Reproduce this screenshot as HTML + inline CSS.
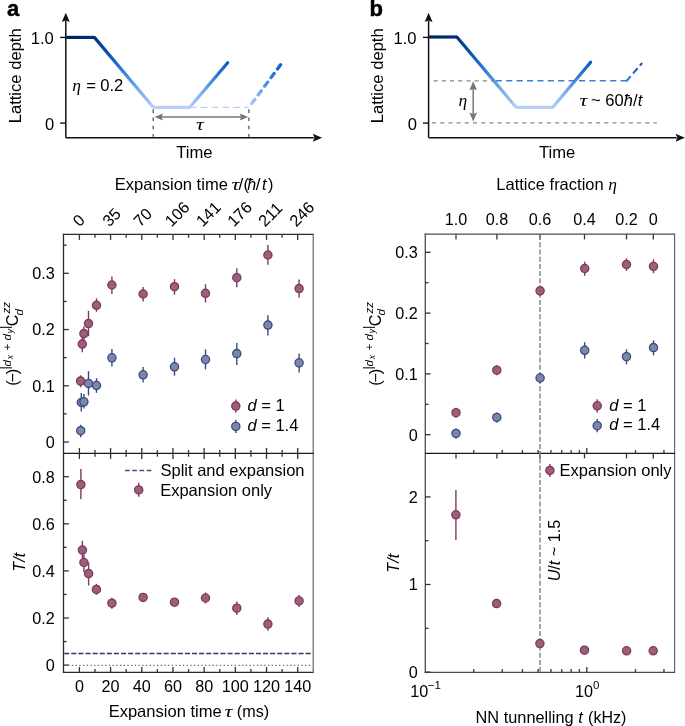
<!DOCTYPE html>
<html><head><meta charset="utf-8"><style>
html,body{margin:0;padding:0;background:#fff;}
svg{display:block;font-family:"Liberation Sans", sans-serif;will-change:transform;}
text{fill:#000;}
</style></head><body>
<svg width="685" height="726" viewBox="0 0 685 726">
<rect width="685" height="726" fill="#fff"/>
<text x="7.00" y="16.20" text-anchor="start" font-size="22" font-weight="bold" stroke="#000" stroke-width="0.45">a</text>
<text x="369.60" y="15.50" text-anchor="start" font-size="22" font-weight="bold" stroke="#000" stroke-width="0.45">b</text>
<line x1="65.80" y1="137.70" x2="65.80" y2="20.50" stroke="#111" stroke-width="1.5" />
<path d="M65.80,12.80 L69.75,22.10 L65.80,20.40 L61.85,22.10 Z" fill="#111"/>
<line x1="65.80" y1="137.70" x2="313.80" y2="137.70" stroke="#111" stroke-width="1.5" />
<path d="M322.10,137.70 L312.80,141.65 L314.50,137.70 L312.80,133.75 Z" fill="#111"/>
<line x1="60.20" y1="37.40" x2="65.80" y2="37.40" stroke="#111" stroke-width="1.4" />
<line x1="60.20" y1="123.10" x2="65.80" y2="123.10" stroke="#111" stroke-width="1.4" />
<text x="53.80" y="44.10" text-anchor="end" font-size="16.6" >1.0</text>
<text x="54.20" y="129.60" text-anchor="end" font-size="16.6" >0</text>
<text transform="translate(20.60,75.8) rotate(-90)" text-anchor="middle" font-size="16.6">Lattice depth</text>
<text x="194.40" y="158.20" text-anchor="middle" font-size="16.6" >Time</text>
<linearGradient id="g1a" gradientUnits="userSpaceOnUse" x1="66.1" y1="37.4" x2="94.4" y2="37.4"><stop offset="0" stop-color="#00205a"/><stop offset="1" stop-color="#00317e"/></linearGradient>
<line x1="66.1" y1="37.4" x2="94.4" y2="37.4" stroke="url(#g1a)" stroke-width="3.2" />
<linearGradient id="g2a" gradientUnits="userSpaceOnUse" x1="94.4" y1="37.4" x2="153.3" y2="107.3"><stop offset="0" stop-color="#003584"/><stop offset="0.2" stop-color="#054fae"/><stop offset="0.45" stop-color="#2a76d6"/><stop offset="0.7" stop-color="#6aa3ec"/><stop offset="1" stop-color="#b3cdf8"/></linearGradient>
<line x1="94.4" y1="37.4" x2="153.3" y2="107.3" stroke="url(#g2a)" stroke-width="3.2" />
<circle cx="94.40" cy="37.4" r="1.5" fill="#00317e"/>
<line x1="152.80" y1="107.30" x2="189.80" y2="107.30" stroke="#b8cff8" stroke-width="3.2" />
<linearGradient id="g3a" gradientUnits="userSpaceOnUse" x1="189.8" y1="107.3" x2="227.7" y2="62.7"><stop offset="0" stop-color="#b3cdf8"/><stop offset="0.35" stop-color="#78abee"/><stop offset="0.7" stop-color="#2f78d8"/><stop offset="1" stop-color="#0a5cc4"/></linearGradient>
<line x1="189.8" y1="107.3" x2="227.7" y2="62.7" stroke="url(#g3a)" stroke-width="3.2" stroke-linecap="round"/>
<line x1="189.80" y1="107.30" x2="248.90" y2="107.30" stroke="#b8cff8" stroke-width="1.3" stroke-dasharray="7 3.9"/>
<linearGradient id="g4a" gradientUnits="userSpaceOnUse" x1="248.89999999999998" y1="107.3" x2="281.7" y2="63.3"><stop offset="0" stop-color="#b3cdf8"/><stop offset="0.35" stop-color="#78abee"/><stop offset="0.7" stop-color="#2f78d8"/><stop offset="1" stop-color="#0a5cc4"/></linearGradient>
<line x1="248.89999999999998" y1="107.3" x2="281.7" y2="63.3" stroke="url(#g4a)" stroke-width="3.3" stroke-linecap="round" stroke-dasharray="5.2 5.6" stroke-dashoffset="-4.6"/>
<line x1="153.20" y1="109.30" x2="153.20" y2="136.70" stroke="#555" stroke-width="1.3" stroke-dasharray="3.6 4.6"/>
<line x1="248.90" y1="109.30" x2="248.90" y2="136.70" stroke="#555" stroke-width="1.3" stroke-dasharray="3.6 4.6"/>
<line x1="157.80" y1="117.10" x2="242.80" y2="117.10" stroke="#777" stroke-width="1.5" />
<path d="M154.60,117.10 L162.90,113.60 L161.60,117.10 L162.90,120.60 Z" fill="#777"/>
<path d="M248.10,117.10 L239.80,120.60 L241.10,117.10 L239.80,113.60 Z" fill="#777"/>
<text transform="translate(200.00,130.4) scale(1.3,0.92)" text-anchor="middle" font-size="17" font-family='"Liberation Serif", serif' font-style="italic">τ</text>
<text x="72.20" y="90.6" font-size="17.5" font-family='"Liberation Serif", serif' font-style="italic">η</text>
<text x="86.20" y="90.9" font-size="16.6">=</text>
<text x="100.20" y="90.9" font-size="16.6">0.2</text>
<line x1="428.60" y1="137.70" x2="428.60" y2="20.50" stroke="#111" stroke-width="1.5" />
<path d="M428.60,12.80 L432.55,22.10 L428.60,20.40 L424.65,22.10 Z" fill="#111"/>
<line x1="428.60" y1="137.70" x2="676.60" y2="137.70" stroke="#111" stroke-width="1.5" />
<path d="M684.90,137.70 L675.60,141.65 L677.30,137.70 L675.60,133.75 Z" fill="#111"/>
<line x1="423.00" y1="37.40" x2="428.60" y2="37.40" stroke="#111" stroke-width="1.4" />
<line x1="423.00" y1="123.10" x2="428.60" y2="123.10" stroke="#111" stroke-width="1.4" />
<text x="416.60" y="44.10" text-anchor="end" font-size="16.6" >1.0</text>
<text x="417.00" y="129.60" text-anchor="end" font-size="16.6" >0</text>
<text transform="translate(383.40,75.8) rotate(-90)" text-anchor="middle" font-size="16.6">Lattice depth</text>
<text x="557.20" y="158.20" text-anchor="middle" font-size="16.6" >Time</text>
<linearGradient id="g1b" gradientUnits="userSpaceOnUse" x1="428.90000000000003" y1="37.0" x2="456.90000000000003" y2="37.0"><stop offset="0" stop-color="#00205a"/><stop offset="1" stop-color="#00317e"/></linearGradient>
<line x1="428.90000000000003" y1="37.0" x2="456.90000000000003" y2="37.0" stroke="url(#g1b)" stroke-width="3.2" />
<linearGradient id="g2b" gradientUnits="userSpaceOnUse" x1="456.90000000000003" y1="37.0" x2="516.1" y2="107.3"><stop offset="0" stop-color="#003584"/><stop offset="0.2" stop-color="#054fae"/><stop offset="0.45" stop-color="#2a76d6"/><stop offset="0.7" stop-color="#6aa3ec"/><stop offset="1" stop-color="#b3cdf8"/></linearGradient>
<line x1="456.90000000000003" y1="37.0" x2="516.1" y2="107.3" stroke="url(#g2b)" stroke-width="3.2" />
<circle cx="456.90" cy="37.0" r="1.5" fill="#00317e"/>
<line x1="515.60" y1="107.30" x2="552.60" y2="107.30" stroke="#b8cff8" stroke-width="3.2" />
<linearGradient id="g3b" gradientUnits="userSpaceOnUse" x1="552.8000000000001" y1="107.3" x2="590.6" y2="62.3"><stop offset="0" stop-color="#b3cdf8"/><stop offset="0.35" stop-color="#78abee"/><stop offset="0.7" stop-color="#2f78d8"/><stop offset="1" stop-color="#0a5cc4"/></linearGradient>
<line x1="552.8000000000001" y1="107.3" x2="590.6" y2="62.3" stroke="url(#g3b)" stroke-width="3.2" stroke-linecap="round"/>
<line x1="433.60" y1="80.80" x2="494.90" y2="80.80" stroke="#8a8a8a" stroke-width="1.3" stroke-dasharray="4.1 4.1"/>
<line x1="432.00" y1="122.90" x2="656.80" y2="122.90" stroke="#8a8a8a" stroke-width="1.3" stroke-dasharray="4.1 4.1"/>
<line x1="495.80" y1="80.80" x2="626.70" y2="80.80" stroke="#3a80d8" stroke-width="1.6" stroke-dasharray="6.1 4.3"/>
<linearGradient id="g5b" gradientUnits="userSpaceOnUse" x1="626.7" y1="80.8" x2="641.6" y2="63.6"><stop offset="0" stop-color="#3a80d8"/><stop offset="1" stop-color="#0a5cc4"/></linearGradient>
<line x1="626.7" y1="80.8" x2="641.6" y2="63.6" stroke="url(#g5b)" stroke-width="2.2" stroke-linecap="round" stroke-dasharray="5.2 5.3"/>
<line x1="473.20" y1="88.00" x2="473.20" y2="115.00" stroke="#777" stroke-width="1.5" />
<path d="M473.20,81.30 L477.00,90.30 L473.20,89.00 L469.40,90.30 Z" fill="#777"/>
<path d="M473.20,121.60 L469.40,112.60 L473.20,113.90 L477.00,112.60 Z" fill="#777"/>
<text x="458.60" y="106.0" font-size="17.5" font-family='"Liberation Serif", serif' font-style="italic">η</text>
<text transform="translate(579.60,105.8) scale(1.3,0.92)" font-size="17" font-family='"Liberation Serif", serif' font-style="italic">τ</text>
<text x="591.00" y="105.8" font-size="16.6">~ 60<tspan font-style="italic">ħ</tspan>/<tspan font-style="italic">t</tspan></text>
<line x1="63.50" y1="233.80" x2="63.50" y2="673.00" stroke="#2b2b2b" stroke-width="1.3" />
<line x1="62.90" y1="234.40" x2="313.70" y2="234.40" stroke="#2b2b2b" stroke-width="1.3" />
<line x1="62.90" y1="672.40" x2="313.70" y2="672.40" stroke="#2b2b2b" stroke-width="1.3" />
<line x1="313.20" y1="234.40" x2="313.20" y2="672.40" stroke="#5a5a5a" stroke-width="1.1" />
<line x1="63.50" y1="453.40" x2="313.70" y2="453.40" stroke="#1a1a1a" stroke-width="1.3" />
<line x1="79.40" y1="234.40" x2="79.40" y2="239.90" stroke="#333" stroke-width="1.3" />
<line x1="79.40" y1="447.90" x2="79.40" y2="458.90" stroke="#333" stroke-width="1.3" />
<line x1="79.40" y1="666.90" x2="79.40" y2="672.40" stroke="#333" stroke-width="1.3" />
<line x1="94.99" y1="234.40" x2="94.99" y2="237.70" stroke="#333" stroke-width="1.3" />
<line x1="94.99" y1="450.10" x2="94.99" y2="456.70" stroke="#333" stroke-width="1.3" />
<line x1="94.99" y1="669.10" x2="94.99" y2="672.40" stroke="#333" stroke-width="1.3" />
<line x1="110.59" y1="234.40" x2="110.59" y2="239.90" stroke="#333" stroke-width="1.3" />
<line x1="110.59" y1="447.90" x2="110.59" y2="458.90" stroke="#333" stroke-width="1.3" />
<line x1="110.59" y1="666.90" x2="110.59" y2="672.40" stroke="#333" stroke-width="1.3" />
<line x1="126.18" y1="234.40" x2="126.18" y2="237.70" stroke="#333" stroke-width="1.3" />
<line x1="126.18" y1="450.10" x2="126.18" y2="456.70" stroke="#333" stroke-width="1.3" />
<line x1="126.18" y1="669.10" x2="126.18" y2="672.40" stroke="#333" stroke-width="1.3" />
<line x1="141.77" y1="234.40" x2="141.77" y2="239.90" stroke="#333" stroke-width="1.3" />
<line x1="141.77" y1="447.90" x2="141.77" y2="458.90" stroke="#333" stroke-width="1.3" />
<line x1="141.77" y1="666.90" x2="141.77" y2="672.40" stroke="#333" stroke-width="1.3" />
<line x1="157.37" y1="234.40" x2="157.37" y2="237.70" stroke="#333" stroke-width="1.3" />
<line x1="157.37" y1="450.10" x2="157.37" y2="456.70" stroke="#333" stroke-width="1.3" />
<line x1="157.37" y1="669.10" x2="157.37" y2="672.40" stroke="#333" stroke-width="1.3" />
<line x1="172.96" y1="234.40" x2="172.96" y2="239.90" stroke="#333" stroke-width="1.3" />
<line x1="172.96" y1="447.90" x2="172.96" y2="458.90" stroke="#333" stroke-width="1.3" />
<line x1="172.96" y1="666.90" x2="172.96" y2="672.40" stroke="#333" stroke-width="1.3" />
<line x1="188.55" y1="234.40" x2="188.55" y2="237.70" stroke="#333" stroke-width="1.3" />
<line x1="188.55" y1="450.10" x2="188.55" y2="456.70" stroke="#333" stroke-width="1.3" />
<line x1="188.55" y1="669.10" x2="188.55" y2="672.40" stroke="#333" stroke-width="1.3" />
<line x1="204.14" y1="234.40" x2="204.14" y2="239.90" stroke="#333" stroke-width="1.3" />
<line x1="204.14" y1="447.90" x2="204.14" y2="458.90" stroke="#333" stroke-width="1.3" />
<line x1="204.14" y1="666.90" x2="204.14" y2="672.40" stroke="#333" stroke-width="1.3" />
<line x1="219.74" y1="234.40" x2="219.74" y2="237.70" stroke="#333" stroke-width="1.3" />
<line x1="219.74" y1="450.10" x2="219.74" y2="456.70" stroke="#333" stroke-width="1.3" />
<line x1="219.74" y1="669.10" x2="219.74" y2="672.40" stroke="#333" stroke-width="1.3" />
<line x1="235.33" y1="234.40" x2="235.33" y2="239.90" stroke="#333" stroke-width="1.3" />
<line x1="235.33" y1="447.90" x2="235.33" y2="458.90" stroke="#333" stroke-width="1.3" />
<line x1="235.33" y1="666.90" x2="235.33" y2="672.40" stroke="#333" stroke-width="1.3" />
<line x1="250.92" y1="234.40" x2="250.92" y2="237.70" stroke="#333" stroke-width="1.3" />
<line x1="250.92" y1="450.10" x2="250.92" y2="456.70" stroke="#333" stroke-width="1.3" />
<line x1="250.92" y1="669.10" x2="250.92" y2="672.40" stroke="#333" stroke-width="1.3" />
<line x1="266.52" y1="234.40" x2="266.52" y2="239.90" stroke="#333" stroke-width="1.3" />
<line x1="266.52" y1="447.90" x2="266.52" y2="458.90" stroke="#333" stroke-width="1.3" />
<line x1="266.52" y1="666.90" x2="266.52" y2="672.40" stroke="#333" stroke-width="1.3" />
<line x1="282.11" y1="234.40" x2="282.11" y2="237.70" stroke="#333" stroke-width="1.3" />
<line x1="282.11" y1="450.10" x2="282.11" y2="456.70" stroke="#333" stroke-width="1.3" />
<line x1="282.11" y1="669.10" x2="282.11" y2="672.40" stroke="#333" stroke-width="1.3" />
<line x1="297.70" y1="234.40" x2="297.70" y2="239.90" stroke="#333" stroke-width="1.3" />
<line x1="297.70" y1="447.90" x2="297.70" y2="458.90" stroke="#333" stroke-width="1.3" />
<line x1="297.70" y1="666.90" x2="297.70" y2="672.40" stroke="#333" stroke-width="1.3" />
<line x1="63.50" y1="442.00" x2="68.80" y2="442.00" stroke="#333" stroke-width="1.3" />
<text x="54.80" y="447.90" text-anchor="end" font-size="16.2" >0</text>
<line x1="63.50" y1="413.88" x2="66.70" y2="413.88" stroke="#333" stroke-width="1.3" />
<line x1="63.50" y1="385.77" x2="68.80" y2="385.77" stroke="#333" stroke-width="1.3" />
<text x="54.80" y="391.67" text-anchor="end" font-size="16.2" >0.1</text>
<line x1="63.50" y1="357.65" x2="66.70" y2="357.65" stroke="#333" stroke-width="1.3" />
<line x1="63.50" y1="329.54" x2="68.80" y2="329.54" stroke="#333" stroke-width="1.3" />
<text x="54.80" y="335.44" text-anchor="end" font-size="16.2" >0.2</text>
<line x1="63.50" y1="301.43" x2="66.70" y2="301.43" stroke="#333" stroke-width="1.3" />
<line x1="63.50" y1="273.31" x2="68.80" y2="273.31" stroke="#333" stroke-width="1.3" />
<text x="54.80" y="279.21" text-anchor="end" font-size="16.2" >0.3</text>
<line x1="63.50" y1="245.19" x2="66.70" y2="245.19" stroke="#333" stroke-width="1.3" />
<line x1="63.50" y1="665.10" x2="68.80" y2="665.10" stroke="#333" stroke-width="1.3" />
<text x="54.80" y="671.00" text-anchor="end" font-size="16.2" >0</text>
<line x1="63.50" y1="641.55" x2="66.70" y2="641.55" stroke="#333" stroke-width="1.3" />
<line x1="63.50" y1="618.00" x2="68.80" y2="618.00" stroke="#333" stroke-width="1.3" />
<text x="54.80" y="623.90" text-anchor="end" font-size="16.2" >0.2</text>
<line x1="63.50" y1="594.45" x2="66.70" y2="594.45" stroke="#333" stroke-width="1.3" />
<line x1="63.50" y1="570.90" x2="68.80" y2="570.90" stroke="#333" stroke-width="1.3" />
<text x="54.80" y="576.80" text-anchor="end" font-size="16.2" >0.4</text>
<line x1="63.50" y1="547.35" x2="66.70" y2="547.35" stroke="#333" stroke-width="1.3" />
<line x1="63.50" y1="523.80" x2="68.80" y2="523.80" stroke="#333" stroke-width="1.3" />
<text x="54.80" y="529.70" text-anchor="end" font-size="16.2" >0.6</text>
<line x1="63.50" y1="500.25" x2="66.70" y2="500.25" stroke="#333" stroke-width="1.3" />
<line x1="63.50" y1="476.70" x2="68.80" y2="476.70" stroke="#333" stroke-width="1.3" />
<text x="54.80" y="482.60" text-anchor="end" font-size="16.2" >0.8</text>
<text x="79.40" y="691.80" text-anchor="middle" font-size="16.2" >0</text>
<text x="110.59" y="691.80" text-anchor="middle" font-size="16.2" >20</text>
<text x="141.77" y="691.80" text-anchor="middle" font-size="16.2" >40</text>
<text x="172.96" y="691.80" text-anchor="middle" font-size="16.2" >60</text>
<text x="204.14" y="691.80" text-anchor="middle" font-size="16.2" >80</text>
<text x="235.33" y="691.80" text-anchor="middle" font-size="16.2" >100</text>
<text x="266.52" y="691.80" text-anchor="middle" font-size="16.2" >120</text>
<text x="297.70" y="691.80" text-anchor="middle" font-size="16.2" >140</text>
<text transform="translate(79.40,227.5) rotate(-45)" font-size="16.2">0</text>
<text transform="translate(109.19,227.5) rotate(-45)" font-size="16.2">35</text>
<text transform="translate(140.37,227.5) rotate(-45)" font-size="16.2">70</text>
<text transform="translate(171.56,227.5) rotate(-45)" font-size="16.2">106</text>
<text transform="translate(202.74,227.5) rotate(-45)" font-size="16.2">141</text>
<text transform="translate(233.93,227.5) rotate(-45)" font-size="16.2">176</text>
<text transform="translate(265.12,227.5) rotate(-45)" font-size="16.2">211</text>
<text transform="translate(296.30,227.5) rotate(-45)" font-size="16.2">246</text>
<text x="108.64" y="717.10" font-size="16.55">Expansion time</text>
<text transform="translate(224.51,717.10) scale(1.3,0.92)" font-size="17" font-family='"Liberation Serif", serif' font-style="italic">τ</text>
<text x="236.80" y="717.10" font-size="16.2">(ms)</text>
<text x="114.84" y="190.40" font-size="16.55">Expansion time</text>
<text transform="translate(231.61,190.40) scale(1.3,0.92)" font-size="17" font-family='"Liberation Serif", serif' font-style="italic">τ</text>
<text x="238.60" y="190.40" font-size="17">/</text>
<text x="243.60" y="190.40" font-size="16.2">(</text>
<text x="247.33" y="190.40" font-size="16.2" font-style="italic">ħ</text>
<text x="255.70" y="190.40" font-size="17">/</text>
<text x="261.96" y="190.40" font-size="16.2" font-style="italic">t</text>
<text x="268.11" y="190.40" font-size="16.2">)</text>
<g transform="translate(18.40,343.20) rotate(-90)" font-size="16.2"><text x="-42.50" y="0.00" font-size="16.2">(</text><text x="-39.40" y="0.00" font-size="16.2">−</text><text x="-31.10" y="0.00" font-size="16.2">)</text><text x="-26.30" y="-9.00" font-size="12.8">|</text><text x="-23.40" y="-7.60" font-size="11.5" font-style="italic">d</text><text x="-16.00" y="-5.60" font-size="8.5" font-style="italic">x</text><text x="-7.40" y="-7.60" font-size="11.5">+</text><text x="2.60" y="-7.60" font-size="11.5" font-style="italic">d</text><text x="10.00" y="-5.60" font-size="8.5" font-style="italic">y</text><text x="14.30" y="-9.00" font-size="12.8">|</text><text x="16.90" y="0.00" font-size="16.2">C</text><text x="27.60" y="4.40" font-size="11.5" font-style="italic">d</text><text x="29.80" y="-8.00" font-size="11.5" font-style="italic">zz</text></g>
<text transform="translate(25.0,562.2) rotate(-90)" text-anchor="middle" font-size="16.2" font-style="italic">T/t</text>
<line x1="80.70" y1="424.70" x2="80.70" y2="437.20" stroke="#3a4a80" stroke-width="1.4" />
<circle cx="80.70" cy="430.70" r="4.1" fill="#7b87aa" stroke="#3a4a80" stroke-width="1.3"/>
<line x1="81.30" y1="393.00" x2="81.30" y2="411.50" stroke="#3a4a80" stroke-width="1.4" />
<circle cx="81.30" cy="402.50" r="4.1" fill="#7b87aa" stroke="#3a4a80" stroke-width="1.3"/>
<line x1="83.90" y1="393.90" x2="83.90" y2="408.50" stroke="#3a4a80" stroke-width="1.4" />
<circle cx="83.90" cy="401.80" r="4.1" fill="#7b87aa" stroke="#3a4a80" stroke-width="1.3"/>
<line x1="88.50" y1="371.20" x2="88.50" y2="395.50" stroke="#3a4a80" stroke-width="1.4" />
<circle cx="88.50" cy="383.40" r="4.1" fill="#7b87aa" stroke="#3a4a80" stroke-width="1.3"/>
<line x1="96.50" y1="378.20" x2="96.50" y2="392.80" stroke="#3a4a80" stroke-width="1.4" />
<circle cx="96.50" cy="385.50" r="4.1" fill="#7b87aa" stroke="#3a4a80" stroke-width="1.3"/>
<line x1="111.90" y1="349.00" x2="111.90" y2="366.60" stroke="#3a4a80" stroke-width="1.4" />
<circle cx="111.90" cy="357.80" r="4.1" fill="#7b87aa" stroke="#3a4a80" stroke-width="1.3"/>
<line x1="143.10" y1="366.90" x2="143.10" y2="382.60" stroke="#3a4a80" stroke-width="1.4" />
<circle cx="143.10" cy="374.80" r="4.1" fill="#7b87aa" stroke="#3a4a80" stroke-width="1.3"/>
<line x1="174.50" y1="357.70" x2="174.50" y2="375.70" stroke="#3a4a80" stroke-width="1.4" />
<circle cx="174.50" cy="366.80" r="4.1" fill="#7b87aa" stroke="#3a4a80" stroke-width="1.3"/>
<line x1="205.50" y1="349.40" x2="205.50" y2="369.40" stroke="#3a4a80" stroke-width="1.4" />
<circle cx="205.50" cy="359.50" r="4.1" fill="#7b87aa" stroke="#3a4a80" stroke-width="1.3"/>
<line x1="236.80" y1="343.10" x2="236.80" y2="365.00" stroke="#3a4a80" stroke-width="1.4" />
<circle cx="236.80" cy="353.60" r="4.1" fill="#7b87aa" stroke="#3a4a80" stroke-width="1.3"/>
<line x1="267.90" y1="315.20" x2="267.90" y2="335.60" stroke="#3a4a80" stroke-width="1.4" />
<circle cx="267.90" cy="325.10" r="4.1" fill="#7b87aa" stroke="#3a4a80" stroke-width="1.3"/>
<line x1="299.10" y1="353.40" x2="299.10" y2="372.60" stroke="#3a4a80" stroke-width="1.4" />
<circle cx="299.10" cy="362.80" r="4.1" fill="#7b87aa" stroke="#3a4a80" stroke-width="1.3"/>
<line x1="80.60" y1="375.30" x2="80.60" y2="387.30" stroke="#7d3a5c" stroke-width="1.4" />
<circle cx="80.60" cy="381.10" r="4.1" fill="#9c5e7a" stroke="#7d3a5c" stroke-width="1.3"/>
<line x1="82.30" y1="337.00" x2="82.30" y2="352.30" stroke="#7d3a5c" stroke-width="1.4" />
<circle cx="82.30" cy="344.10" r="4.1" fill="#9c5e7a" stroke="#7d3a5c" stroke-width="1.3"/>
<line x1="83.90" y1="326.60" x2="83.90" y2="340.00" stroke="#7d3a5c" stroke-width="1.4" />
<circle cx="83.90" cy="333.60" r="4.1" fill="#9c5e7a" stroke="#7d3a5c" stroke-width="1.3"/>
<line x1="88.50" y1="310.70" x2="88.50" y2="336.20" stroke="#7d3a5c" stroke-width="1.4" />
<circle cx="88.50" cy="323.60" r="4.1" fill="#9c5e7a" stroke="#7d3a5c" stroke-width="1.3"/>
<line x1="96.50" y1="298.40" x2="96.50" y2="311.80" stroke="#7d3a5c" stroke-width="1.4" />
<circle cx="96.50" cy="305.30" r="4.1" fill="#9c5e7a" stroke="#7d3a5c" stroke-width="1.3"/>
<line x1="111.90" y1="276.40" x2="111.90" y2="294.00" stroke="#7d3a5c" stroke-width="1.4" />
<circle cx="111.90" cy="285.00" r="4.1" fill="#9c5e7a" stroke="#7d3a5c" stroke-width="1.3"/>
<line x1="143.10" y1="287.00" x2="143.10" y2="301.60" stroke="#7d3a5c" stroke-width="1.4" />
<circle cx="143.10" cy="294.00" r="4.1" fill="#9c5e7a" stroke="#7d3a5c" stroke-width="1.3"/>
<line x1="174.50" y1="279.10" x2="174.50" y2="294.70" stroke="#7d3a5c" stroke-width="1.4" />
<circle cx="174.50" cy="286.70" r="4.1" fill="#9c5e7a" stroke="#7d3a5c" stroke-width="1.3"/>
<line x1="205.50" y1="284.20" x2="205.50" y2="302.50" stroke="#7d3a5c" stroke-width="1.4" />
<circle cx="205.50" cy="293.30" r="4.1" fill="#9c5e7a" stroke="#7d3a5c" stroke-width="1.3"/>
<line x1="236.80" y1="268.20" x2="236.80" y2="287.20" stroke="#7d3a5c" stroke-width="1.4" />
<circle cx="236.80" cy="277.70" r="4.1" fill="#9c5e7a" stroke="#7d3a5c" stroke-width="1.3"/>
<line x1="267.90" y1="245.10" x2="267.90" y2="264.80" stroke="#7d3a5c" stroke-width="1.4" />
<circle cx="267.90" cy="255.00" r="4.1" fill="#9c5e7a" stroke="#7d3a5c" stroke-width="1.3"/>
<line x1="299.10" y1="279.40" x2="299.10" y2="297.70" stroke="#7d3a5c" stroke-width="1.4" />
<circle cx="299.10" cy="288.60" r="4.1" fill="#9c5e7a" stroke="#7d3a5c" stroke-width="1.3"/>
<line x1="235.80" y1="399.50" x2="235.80" y2="412.70" stroke="#7d3a5c" stroke-width="1.4" />
<circle cx="235.80" cy="406.10" r="4.1" fill="#9c5e7a" stroke="#7d3a5c" stroke-width="1.3"/>
<line x1="235.80" y1="419.80" x2="235.80" y2="433.00" stroke="#3a4a80" stroke-width="1.4" />
<circle cx="235.80" cy="426.40" r="4.1" fill="#7b87aa" stroke="#3a4a80" stroke-width="1.3"/>
<text x="247.40" y="410.90" font-size="16.5"><tspan font-style="italic">d</tspan> = 1</text>
<text x="247.40" y="430.60" font-size="16.5"><tspan font-style="italic">d</tspan> = 1.4</text>
<line x1="64.20" y1="653.60" x2="312.50" y2="653.60" stroke="#2d3470" stroke-width="1.5" stroke-dasharray="5.1 2.0"/>
<line x1="64.50" y1="665.40" x2="312.20" y2="665.40" stroke="#6a6a6a" stroke-width="1.3" stroke-dasharray="1.3 2.4"/>
<line x1="80.90" y1="469.00" x2="80.90" y2="499.30" stroke="#7d3a5c" stroke-width="1.4" />
<circle cx="80.90" cy="484.60" r="4.1" fill="#9c5e7a" stroke="#7d3a5c" stroke-width="1.3"/>
<line x1="82.40" y1="540.70" x2="82.40" y2="558.00" stroke="#7d3a5c" stroke-width="1.4" />
<circle cx="82.40" cy="550.10" r="4.1" fill="#9c5e7a" stroke="#7d3a5c" stroke-width="1.3"/>
<line x1="83.90" y1="554.50" x2="83.90" y2="572.00" stroke="#7d3a5c" stroke-width="1.4" />
<circle cx="83.90" cy="562.50" r="4.1" fill="#9c5e7a" stroke="#7d3a5c" stroke-width="1.3"/>
<line x1="88.60" y1="562.50" x2="88.60" y2="585.50" stroke="#7d3a5c" stroke-width="1.4" />
<circle cx="88.60" cy="573.60" r="4.1" fill="#9c5e7a" stroke="#7d3a5c" stroke-width="1.3"/>
<line x1="96.40" y1="583.80" x2="96.40" y2="594.70" stroke="#7d3a5c" stroke-width="1.4" />
<circle cx="96.40" cy="589.40" r="4.1" fill="#9c5e7a" stroke="#7d3a5c" stroke-width="1.3"/>
<line x1="111.90" y1="597.80" x2="111.90" y2="608.70" stroke="#7d3a5c" stroke-width="1.4" />
<circle cx="111.90" cy="603.20" r="4.1" fill="#9c5e7a" stroke="#7d3a5c" stroke-width="1.3"/>
<circle cx="143.10" cy="597.40" r="4.1" fill="#9c5e7a" stroke="#7d3a5c" stroke-width="1.3"/>
<circle cx="174.50" cy="602.20" r="4.1" fill="#9c5e7a" stroke="#7d3a5c" stroke-width="1.3"/>
<line x1="205.50" y1="592.40" x2="205.50" y2="603.60" stroke="#7d3a5c" stroke-width="1.4" />
<circle cx="205.50" cy="598.00" r="4.1" fill="#9c5e7a" stroke="#7d3a5c" stroke-width="1.3"/>
<line x1="236.80" y1="601.60" x2="236.80" y2="615.00" stroke="#7d3a5c" stroke-width="1.4" />
<circle cx="236.80" cy="608.20" r="4.1" fill="#9c5e7a" stroke="#7d3a5c" stroke-width="1.3"/>
<line x1="267.90" y1="617.20" x2="267.90" y2="630.80" stroke="#7d3a5c" stroke-width="1.4" />
<circle cx="267.90" cy="624.10" r="4.1" fill="#9c5e7a" stroke="#7d3a5c" stroke-width="1.3"/>
<line x1="299.10" y1="595.00" x2="299.10" y2="607.00" stroke="#7d3a5c" stroke-width="1.4" />
<circle cx="299.10" cy="600.90" r="4.1" fill="#9c5e7a" stroke="#7d3a5c" stroke-width="1.3"/>
<line x1="125.10" y1="470.50" x2="151.40" y2="470.50" stroke="#454a88" stroke-width="1.4" stroke-dasharray="4.6 2.6"/>
<text x="160.5" y="476.0" font-size="16.5">Split and expansion</text>
<line x1="138.70" y1="482.80" x2="138.70" y2="496.80" stroke="#7d3a5c" stroke-width="1.4" />
<circle cx="138.70" cy="489.90" r="4.1" fill="#9c5e7a" stroke="#7d3a5c" stroke-width="1.3"/>
<text x="160.2" y="495.6" font-size="16.5">Expansion only</text>
<line x1="425.30" y1="233.50" x2="425.30" y2="673.00" stroke="#4a4a4a" stroke-width="1.3" />
<line x1="424.70" y1="234.10" x2="675.10" y2="234.10" stroke="#4a4a4a" stroke-width="1.3" />
<line x1="424.70" y1="672.40" x2="675.10" y2="672.40" stroke="#4a4a4a" stroke-width="1.3" />
<line x1="674.60" y1="234.10" x2="674.60" y2="672.40" stroke="#5a5a5a" stroke-width="1.1" />
<line x1="425.30" y1="453.40" x2="675.10" y2="453.40" stroke="#1a1a1a" stroke-width="1.3" />
<line x1="473.78" y1="450.10" x2="473.78" y2="453.40" stroke="#333" stroke-width="1.3" />
<line x1="473.78" y1="669.10" x2="473.78" y2="672.40" stroke="#333" stroke-width="1.3" />
<line x1="502.25" y1="450.10" x2="502.25" y2="453.40" stroke="#333" stroke-width="1.3" />
<line x1="502.25" y1="669.10" x2="502.25" y2="672.40" stroke="#333" stroke-width="1.3" />
<line x1="522.45" y1="450.10" x2="522.45" y2="453.40" stroke="#333" stroke-width="1.3" />
<line x1="522.45" y1="669.10" x2="522.45" y2="672.40" stroke="#333" stroke-width="1.3" />
<line x1="538.12" y1="450.10" x2="538.12" y2="453.40" stroke="#333" stroke-width="1.3" />
<line x1="538.12" y1="669.10" x2="538.12" y2="672.40" stroke="#333" stroke-width="1.3" />
<line x1="550.93" y1="450.10" x2="550.93" y2="453.40" stroke="#333" stroke-width="1.3" />
<line x1="550.93" y1="669.10" x2="550.93" y2="672.40" stroke="#333" stroke-width="1.3" />
<line x1="561.75" y1="450.10" x2="561.75" y2="453.40" stroke="#333" stroke-width="1.3" />
<line x1="561.75" y1="669.10" x2="561.75" y2="672.40" stroke="#333" stroke-width="1.3" />
<line x1="571.13" y1="450.10" x2="571.13" y2="453.40" stroke="#333" stroke-width="1.3" />
<line x1="571.13" y1="669.10" x2="571.13" y2="672.40" stroke="#333" stroke-width="1.3" />
<line x1="579.40" y1="450.10" x2="579.40" y2="453.40" stroke="#333" stroke-width="1.3" />
<line x1="579.40" y1="669.10" x2="579.40" y2="672.40" stroke="#333" stroke-width="1.3" />
<line x1="586.80" y1="447.90" x2="586.80" y2="453.40" stroke="#333" stroke-width="1.3" />
<line x1="586.80" y1="666.90" x2="586.80" y2="672.40" stroke="#333" stroke-width="1.3" />
<line x1="635.48" y1="450.10" x2="635.48" y2="453.40" stroke="#333" stroke-width="1.3" />
<line x1="635.48" y1="669.10" x2="635.48" y2="672.40" stroke="#333" stroke-width="1.3" />
<line x1="663.95" y1="450.10" x2="663.95" y2="453.40" stroke="#333" stroke-width="1.3" />
<line x1="663.95" y1="669.10" x2="663.95" y2="672.40" stroke="#333" stroke-width="1.3" />
<line x1="456.00" y1="234.40" x2="456.00" y2="239.40" stroke="#333" stroke-width="1.3" />
<line x1="456.00" y1="453.40" x2="456.00" y2="458.40" stroke="#333" stroke-width="1.3" />
<text x="456.00" y="225.30" text-anchor="middle" font-size="16.2" >1.0</text>
<line x1="496.90" y1="234.40" x2="496.90" y2="239.40" stroke="#333" stroke-width="1.3" />
<line x1="496.90" y1="453.40" x2="496.90" y2="458.40" stroke="#333" stroke-width="1.3" />
<text x="496.90" y="225.30" text-anchor="middle" font-size="16.2" >0.8</text>
<line x1="540.00" y1="234.40" x2="540.00" y2="239.40" stroke="#333" stroke-width="1.3" />
<line x1="540.00" y1="453.40" x2="540.00" y2="458.40" stroke="#333" stroke-width="1.3" />
<text x="540.00" y="225.30" text-anchor="middle" font-size="16.2" >0.6</text>
<line x1="584.50" y1="234.40" x2="584.50" y2="239.40" stroke="#333" stroke-width="1.3" />
<line x1="584.50" y1="453.40" x2="584.50" y2="458.40" stroke="#333" stroke-width="1.3" />
<text x="584.50" y="225.30" text-anchor="middle" font-size="16.2" >0.4</text>
<line x1="626.50" y1="234.40" x2="626.50" y2="239.40" stroke="#333" stroke-width="1.3" />
<line x1="626.50" y1="453.40" x2="626.50" y2="458.40" stroke="#333" stroke-width="1.3" />
<text x="626.50" y="225.30" text-anchor="middle" font-size="16.2" >0.2</text>
<line x1="653.30" y1="234.40" x2="653.30" y2="239.40" stroke="#333" stroke-width="1.3" />
<line x1="653.30" y1="453.40" x2="653.30" y2="458.40" stroke="#333" stroke-width="1.3" />
<text x="653.30" y="225.30" text-anchor="middle" font-size="16.2" >0</text>
<line x1="540.00" y1="235.10" x2="540.00" y2="671.70" stroke="#888" stroke-width="1.5" stroke-dasharray="5 2.2"/>
<line x1="425.30" y1="434.70" x2="430.60" y2="434.70" stroke="#333" stroke-width="1.3" />
<text x="417.80" y="440.60" text-anchor="end" font-size="16.2" >0</text>
<line x1="425.30" y1="404.30" x2="428.50" y2="404.30" stroke="#333" stroke-width="1.3" />
<line x1="425.30" y1="373.90" x2="430.60" y2="373.90" stroke="#333" stroke-width="1.3" />
<text x="417.80" y="379.80" text-anchor="end" font-size="16.2" >0.1</text>
<line x1="425.30" y1="343.50" x2="428.50" y2="343.50" stroke="#333" stroke-width="1.3" />
<line x1="425.30" y1="313.10" x2="430.60" y2="313.10" stroke="#333" stroke-width="1.3" />
<text x="417.80" y="319.00" text-anchor="end" font-size="16.2" >0.2</text>
<line x1="425.30" y1="282.70" x2="428.50" y2="282.70" stroke="#333" stroke-width="1.3" />
<line x1="425.30" y1="252.30" x2="430.60" y2="252.30" stroke="#333" stroke-width="1.3" />
<text x="417.80" y="258.20" text-anchor="end" font-size="16.2" >0.3</text>
<line x1="425.30" y1="672.10" x2="430.60" y2="672.10" stroke="#333" stroke-width="1.3" />
<text x="417.80" y="678.00" text-anchor="end" font-size="16.2" >0</text>
<line x1="425.30" y1="628.30" x2="428.50" y2="628.30" stroke="#333" stroke-width="1.3" />
<line x1="425.30" y1="584.50" x2="430.60" y2="584.50" stroke="#333" stroke-width="1.3" />
<text x="417.80" y="590.40" text-anchor="end" font-size="16.2" >1</text>
<line x1="425.30" y1="540.70" x2="428.50" y2="540.70" stroke="#333" stroke-width="1.3" />
<line x1="425.30" y1="496.90" x2="430.60" y2="496.90" stroke="#333" stroke-width="1.3" />
<text x="417.80" y="502.80" text-anchor="end" font-size="16.2" >2</text>
<text x="410.2" y="696.6" font-size="16.2">10<tspan dx="-0.4" dy="-7.5" font-size="11.5">−1</tspan></text>
<text x="575.0" y="696.6" font-size="16.2">10<tspan dy="-7.5" font-size="11.5">0</tspan></text>
<text x="475.56" y="722.90" font-size="16.35">NN tunnelling</text>
<text x="578.16" y="722.90" font-size="16.35" font-style="italic">t</text>
<text x="588.11" y="722.90" font-size="16.0">(kHz)</text>
<text x="496.35" y="190.40" font-size="16.5">Lattice fraction</text>
<text x="608.28" y="190.40" font-size="17.5" font-family='"Liberation Serif", serif' font-style="italic">η</text>
<g transform="translate(380.90,343.20) rotate(-90)" font-size="16.2"><text x="-42.50" y="0.00" font-size="16.2">(</text><text x="-39.40" y="0.00" font-size="16.2">−</text><text x="-31.10" y="0.00" font-size="16.2">)</text><text x="-26.30" y="-9.00" font-size="12.8">|</text><text x="-23.40" y="-7.60" font-size="11.5" font-style="italic">d</text><text x="-16.00" y="-5.60" font-size="8.5" font-style="italic">x</text><text x="-7.40" y="-7.60" font-size="11.5">+</text><text x="2.60" y="-7.60" font-size="11.5" font-style="italic">d</text><text x="10.00" y="-5.60" font-size="8.5" font-style="italic">y</text><text x="14.30" y="-9.00" font-size="12.8">|</text><text x="16.90" y="0.00" font-size="16.2">C</text><text x="27.60" y="4.40" font-size="11.5" font-style="italic">d</text><text x="29.80" y="-8.00" font-size="11.5" font-style="italic">zz</text></g>
<text transform="translate(399.0,563.2) rotate(-90)" text-anchor="middle" font-size="16.2" font-style="italic">T/t</text>
<line x1="456.00" y1="428.40" x2="456.00" y2="438.40" stroke="#3a4a80" stroke-width="1.4" />
<circle cx="456.00" cy="433.40" r="4.1" fill="#7b87aa" stroke="#3a4a80" stroke-width="1.3"/>
<line x1="496.80" y1="412.40" x2="496.80" y2="422.40" stroke="#3a4a80" stroke-width="1.4" />
<circle cx="496.80" cy="417.40" r="4.1" fill="#7b87aa" stroke="#3a4a80" stroke-width="1.3"/>
<line x1="540.10" y1="373.00" x2="540.10" y2="383.00" stroke="#3a4a80" stroke-width="1.4" />
<circle cx="540.10" cy="378.00" r="4.1" fill="#7b87aa" stroke="#3a4a80" stroke-width="1.3"/>
<line x1="584.70" y1="342.20" x2="584.70" y2="358.60" stroke="#3a4a80" stroke-width="1.4" />
<circle cx="584.70" cy="350.30" r="4.1" fill="#7b87aa" stroke="#3a4a80" stroke-width="1.3"/>
<line x1="626.50" y1="349.30" x2="626.50" y2="364.40" stroke="#3a4a80" stroke-width="1.4" />
<circle cx="626.50" cy="356.70" r="4.1" fill="#7b87aa" stroke="#3a4a80" stroke-width="1.3"/>
<line x1="653.50" y1="340.30" x2="653.50" y2="355.30" stroke="#3a4a80" stroke-width="1.4" />
<circle cx="653.50" cy="347.60" r="4.1" fill="#7b87aa" stroke="#3a4a80" stroke-width="1.3"/>
<line x1="456.00" y1="407.70" x2="456.00" y2="417.70" stroke="#7d3a5c" stroke-width="1.4" />
<circle cx="456.00" cy="412.70" r="4.1" fill="#9c5e7a" stroke="#7d3a5c" stroke-width="1.3"/>
<line x1="496.80" y1="365.20" x2="496.80" y2="375.20" stroke="#7d3a5c" stroke-width="1.4" />
<circle cx="496.80" cy="370.20" r="4.1" fill="#9c5e7a" stroke="#7d3a5c" stroke-width="1.3"/>
<line x1="540.10" y1="285.80" x2="540.10" y2="295.80" stroke="#7d3a5c" stroke-width="1.4" />
<circle cx="540.10" cy="290.80" r="4.1" fill="#9c5e7a" stroke="#7d3a5c" stroke-width="1.3"/>
<line x1="584.70" y1="261.80" x2="584.70" y2="275.70" stroke="#7d3a5c" stroke-width="1.4" />
<circle cx="584.70" cy="268.50" r="4.1" fill="#9c5e7a" stroke="#7d3a5c" stroke-width="1.3"/>
<line x1="626.50" y1="258.30" x2="626.50" y2="270.90" stroke="#7d3a5c" stroke-width="1.4" />
<circle cx="626.50" cy="264.50" r="4.1" fill="#9c5e7a" stroke="#7d3a5c" stroke-width="1.3"/>
<line x1="653.50" y1="259.30" x2="653.50" y2="273.20" stroke="#7d3a5c" stroke-width="1.4" />
<circle cx="653.50" cy="266.40" r="4.1" fill="#9c5e7a" stroke="#7d3a5c" stroke-width="1.3"/>
<line x1="597.20" y1="399.20" x2="597.20" y2="412.40" stroke="#7d3a5c" stroke-width="1.4" />
<circle cx="597.20" cy="405.80" r="4.1" fill="#9c5e7a" stroke="#7d3a5c" stroke-width="1.3"/>
<line x1="597.20" y1="419.10" x2="597.20" y2="432.30" stroke="#3a4a80" stroke-width="1.4" />
<circle cx="597.20" cy="425.70" r="4.1" fill="#7b87aa" stroke="#3a4a80" stroke-width="1.3"/>
<text x="609.30" y="410.60" font-size="16.5"><tspan font-style="italic">d</tspan> = 1</text>
<text x="609.30" y="429.90" font-size="16.5"><tspan font-style="italic">d</tspan> = 1.4</text>
<line x1="455.90" y1="490.00" x2="455.90" y2="540.10" stroke="#7d3a5c" stroke-width="1.4" />
<circle cx="455.90" cy="514.80" r="4.1" fill="#9c5e7a" stroke="#7d3a5c" stroke-width="1.3"/>
<line x1="496.60" y1="599.00" x2="496.60" y2="608.00" stroke="#7d3a5c" stroke-width="1.4" />
<circle cx="496.60" cy="603.60" r="4.1" fill="#9c5e7a" stroke="#7d3a5c" stroke-width="1.3"/>
<line x1="539.90" y1="639.00" x2="539.90" y2="648.00" stroke="#7d3a5c" stroke-width="1.4" />
<circle cx="539.90" cy="643.60" r="4.1" fill="#9c5e7a" stroke="#7d3a5c" stroke-width="1.3"/>
<line x1="584.50" y1="646.00" x2="584.50" y2="654.50" stroke="#7d3a5c" stroke-width="1.4" />
<circle cx="584.50" cy="650.20" r="4.1" fill="#9c5e7a" stroke="#7d3a5c" stroke-width="1.3"/>
<line x1="626.60" y1="646.50" x2="626.60" y2="655.00" stroke="#7d3a5c" stroke-width="1.4" />
<circle cx="626.60" cy="650.80" r="4.1" fill="#9c5e7a" stroke="#7d3a5c" stroke-width="1.3"/>
<line x1="653.20" y1="646.50" x2="653.20" y2="655.00" stroke="#7d3a5c" stroke-width="1.4" />
<circle cx="653.20" cy="650.80" r="4.1" fill="#9c5e7a" stroke="#7d3a5c" stroke-width="1.3"/>
<line x1="549.90" y1="464.00" x2="549.90" y2="477.00" stroke="#7d3a5c" stroke-width="1.4" />
<circle cx="549.90" cy="470.40" r="4.1" fill="#9c5e7a" stroke="#7d3a5c" stroke-width="1.3"/>
<text x="559.6" y="475.8" font-size="16.5">Expansion only</text>
<text transform="translate(559.6,550.5) rotate(-90)" text-anchor="middle" font-size="16.2"><tspan font-style="italic">U</tspan>/<tspan font-style="italic">t</tspan> ~ 1.5</text>
</svg>
</body></html>
